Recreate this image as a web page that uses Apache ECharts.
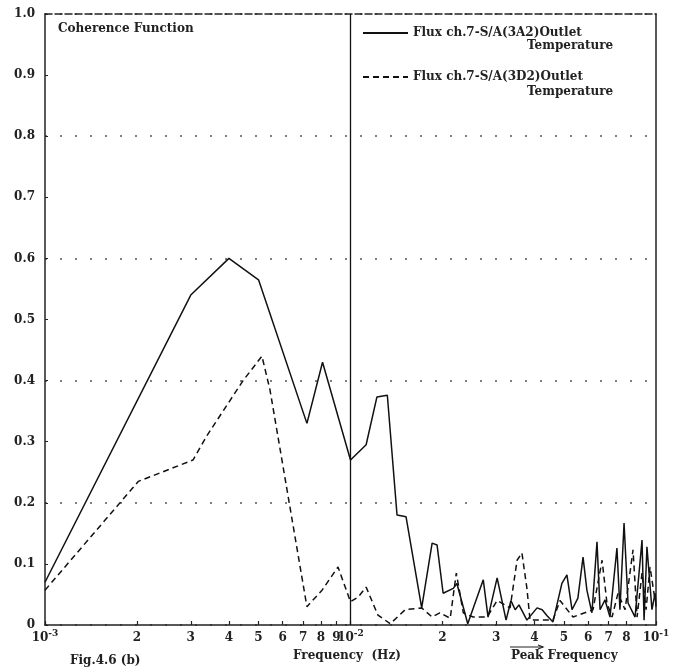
<!DOCTYPE html>
<html>
<head>
<meta charset="utf-8">
<script src="https://cdn.jsdelivr.net/npm/echarts@6/dist/echarts.min.js"></script>
<style>
html,body{margin:0;padding:0;background:#fff;}
#chart{width:677px;height:670px;}
</style>
</head>
<body>
<div id="chart"></div>
<script>
// Frequency (Hz) and coherence values
const solidFreq = [0.001, 0.003, 0.004, 0.005, 0.0072, 0.0081, 0.01, 0.01125, 0.0122, 0.0132, 0.0142, 0.0152, 0.0171, 0.0185, 0.0192, 0.0201, 0.0217, 0.0223, 0.0242, 0.0272, 0.0282, 0.0302, 0.0323, 0.0335, 0.0346, 0.0356, 0.0378, 0.0408, 0.0424, 0.044, 0.046, 0.0492, 0.0511, 0.0531, 0.0555, 0.0577, 0.0594, 0.0617, 0.0641, 0.0656, 0.0681, 0.0707, 0.0745, 0.0762, 0.0786, 0.081, 0.0854, 0.09, 0.0914, 0.0934, 0.097, 0.0993, 0.1];
const solidVal  = [0.07, 0.54, 0.60, 0.565, 0.33, 0.43, 0.27, 0.295, 0.373, 0.376, 0.18, 0.177, 0.028, 0.134, 0.131, 0.052, 0.06, 0.068, 0.002, 0.074, 0.013, 0.077, 0.008, 0.04, 0.025, 0.033, 0.008, 0.028, 0.025, 0.015, 0.005, 0.068, 0.082, 0.025, 0.044, 0.111, 0.057, 0.02, 0.136, 0.025, 0.041, 0.013, 0.126, 0.025, 0.167, 0.036, 0.013, 0.139, 0.008, 0.128, 0.025, 0.052, 0.03];

const dashFreq = [0.001, 0.00202, 0.00305, 0.00339, 0.00445, 0.00513, 0.00545, 0.0072, 0.00807, 0.0091, 0.01, 0.0106, 0.01125, 0.0123, 0.0135, 0.0151, 0.0171, 0.0185, 0.0196, 0.0212, 0.0222, 0.0234, 0.0252, 0.028, 0.0302, 0.0333, 0.0351, 0.0364, 0.0378, 0.0387, 0.0417, 0.046, 0.0485, 0.0535, 0.0622, 0.0666, 0.0691, 0.0718, 0.0751, 0.0792, 0.0841, 0.0867, 0.09, 0.0928, 0.0956, 0.0993];
const dashVal  = [0.057, 0.235, 0.27, 0.31, 0.40, 0.44, 0.385, 0.03, 0.057, 0.095, 0.038, 0.046, 0.062, 0.016, 0.002, 0.025, 0.028, 0.013, 0.02, 0.011, 0.085, 0.02, 0.013, 0.013, 0.04, 0.028, 0.106, 0.118, 0.06, 0.008, 0.008, 0.008, 0.04, 0.013, 0.025, 0.106, 0.036, 0.013, 0.052, 0.025, 0.123, 0.013, 0.085, 0.025, 0.095, 0.04];

const seriesNames = ['Flux ch.7-S/A(3A2)Outlet', 'Flux ch.7-S/A(3D2)Outlet'];
const decades = [-3, -2];
const mantissas = [1, 2, 3, 4, 5, 6, 7, 8, 9];

const FONT = 'DejaVu Serif';
const FS = 12;
const tickVals = [];
decades.forEach(d => mantissas.forEach(m => tickVals.push(Math.log10(m) + d)));
tickVals.push(-1);

function xLabel(v) {
  const e = Math.round(v);
  if (Math.abs(v - e) < 1e-6) return '{b|10}{s|' + e + '}';
  const m = Math.round(Math.pow(10, v - Math.floor(v + 1e-9)));
  return '{b|' + m + '}';
}

const toXY = (f, v) => f.map((x, i) => [Math.log10(x), v[i]]);
const txt = (t, left, top) => ({type: 'text', left, top, style: {text: t, font: 'bold ' + FS + 'px "DejaVu Serif"', fill: '#222'}});

const chart = echarts.init(document.getElementById('chart'), null, {renderer: 'canvas'});
chart.setOption({
  backgroundColor: '#fff',
  animation: false,
  grid: {left: 45, right: 21, top: 14, bottom: 45},
  legend: {
    orient: 'vertical', left: 357, top: 22,
    itemWidth: 45, itemHeight: 14, itemGap: 32,
    itemStyle: {opacity: 0},
    textStyle: {fontFamily: FONT, fontWeight: 'bold', fontSize: FS, color: '#222'},
    data: seriesNames
  },
  xAxis: [{
    type: 'value', min: -3, max: -1,
    splitLine: {show: false},
    axisLine: {show: true, onZero: false, lineStyle: {color: '#222', width: 1.5}},
    axisTick: {show: true, inside: true, length: 4, customValues: tickVals, lineStyle: {color: '#222', width: 1.2}},
    axisLabel: {
      customValues: tickVals, formatter: xLabel, margin: 4, hideOverlap: false,
      showMinLabel: true, showMaxLabel: true,
      fontFamily: FONT, fontWeight: 'bold', fontSize: FS, color: '#222',
      rich: {
        b: {fontFamily: FONT, fontWeight: 'bold', fontSize: FS, color: '#222', lineHeight: 18},
        s: {fontFamily: FONT, fontWeight: 'bold', fontSize: 9, color: '#222', verticalAlign: 'top', lineHeight: 10}
      }
    }
  }, {
    type: 'value', min: -3, max: -1, position: 'top',
    axisLine: {show: true, onZero: false, lineStyle: {color: '#222', width: 1.5, type: [7, 3]}},
    axisTick: {show: false}, axisLabel: {show: false}, splitLine: {show: false}
  }],
  yAxis: [{
    type: 'value', min: 0, max: 1, interval: 0.1,
    splitLine: {show: false},
    axisLine: {show: true, onZero: false, lineStyle: {color: '#222', width: 1.5}},
    axisTick: {show: true, inside: true, length: 3, lineStyle: {color: '#222'}},
    axisLabel: {
      margin: 10, fontFamily: FONT, fontWeight: 'bold', fontSize: FS, color: '#222',
      formatter: v => (Math.abs(v) < 1e-9 ? '0' : v.toFixed(1))
    }
  }, {
    type: 'value', min: 0, max: 1, interval: 0.2, position: 'right',
    axisLine: {show: true, onZero: false, lineStyle: {color: '#222', width: 1.5}},
    axisTick: {show: false}, axisLabel: {show: false},
    splitLine: {show: true, lineStyle: {color: '#555', width: 1.5, type: [2, 13]}}
  }],
  series: [{
    name: seriesNames[0], type: 'line', xAxisIndex: 0, yAxisIndex: 0,
    data: toXY(solidFreq, solidVal), symbol: 'none',
    lineStyle: {color: '#111', width: 1.5},
    itemStyle: {color: '#111'},
    markLine: {
      silent: true, symbol: 'none', label: {show: false},
      lineStyle: {color: '#111', width: 1.3, type: 'solid'},
      data: [{xAxis: -2}]
    }
  }, {
    name: seriesNames[1], type: 'line', xAxisIndex: 0, yAxisIndex: 0,
    data: toXY(dashFreq, dashVal), symbol: 'none',
    lineStyle: {color: '#111', width: 1.5, type: [6, 4]},
    itemStyle: {color: '#111'}
  }],
  graphic: [
    txt('Coherence Function', 58, 23),
    txt('Temperature', 527, 40),
    txt('Temperature', 527, 86),
    txt('Frequency  (Hz)', 293, 650),
    txt('Fig.4.6 (b)', 70, 655),
    txt('Peak Frequency', 511, 650),
    {type: 'polyline', shape: {points: [[510, 647], [543, 647]]}, style: {stroke: '#222', lineWidth: 1.2}},
    {type: 'polyline', shape: {points: [[538, 645], [543, 647], [538, 649]]}, style: {stroke: '#222', lineWidth: 1.2, fill: null}}
  ]
});
</script>
</body>
</html>
